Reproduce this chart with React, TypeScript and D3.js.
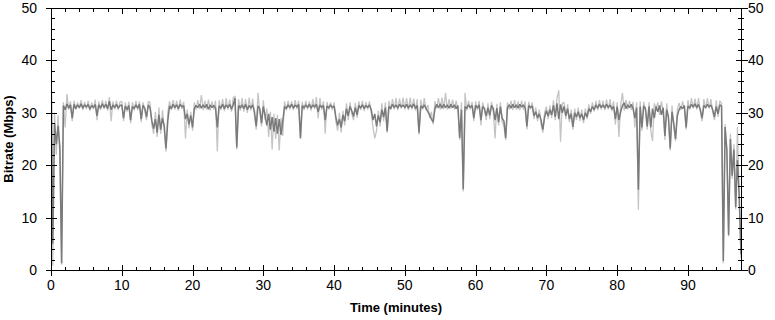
import { useEffect, useRef } from "react"
import * as d3 from "d3"

// one sample every quarter minute, split into 10-minute chunks
const STEP = 0.25
const T_END = 97.5

const xMajor = [0, 10, 20, 30, 40, 50, 60, 70, 80, 90]
const yMajor = [0, 10, 20, 30, 40, 50]

// averaged bitrate (Mbps), dark trace
const dark00 = [40, 5, 28, 24, 27.5, 23.5, 1.3, 31.4, 30.6, 31.7, 30.9, 31.5, 29.0, 31.6, 30.8, 31.5, 31.0, 31.7, 30.9, 31.5, 31.1, 31.6, 30.7, 31.4, 31.0, 31.6, 29.4, 31.5, 30.9, 31.7, 31.0, 31.6, 30.8, 32.2, 30.6, 31.5, 31.0, 31.6, 30.9, 31.4]
const dark10 = [31.5, 29.0, 31.3, 30.6, 31.4, 28.6, 31.2, 30.8, 31.5, 30.9, 31.6, 28.8, 31.4, 30.9, 29.2, 31.5, 30.9, 28.5, 27.0, 28.8, 26.2, 29.6, 26.8, 29.0, 27.5, 23.2, 28.4, 31.3, 30.8, 31.6, 31.0, 31.5, 30.8, 31.6, 31.1, 31.4, 28.8, 29.8, 27.8, 29.5]
const dark20 = [27.2, 30.8, 31.4, 31.0, 31.6, 30.9, 31.5, 31.0, 31.6, 30.7, 31.5, 31.0, 31.4, 30.9, 27.2, 31.3, 30.9, 31.6, 30.8, 31.5, 31.0, 31.6, 30.7, 31.5, 32.8, 23.4, 31.4, 30.9, 31.5, 30.8, 31.6, 30.6, 31.4, 30.9, 31.5, 30.2, 27.4, 31.3, 30.8, 28.0]
const dark30 = [31.2, 29.5, 27.6, 29.8, 26.8, 29.2, 26.4, 29.0, 26.0, 28.8, 25.8, 28.4, 31.2, 30.8, 31.5, 31.0, 31.6, 30.9, 31.5, 31.1, 31.6, 25.2, 31.4, 30.9, 31.5, 31.0, 31.6, 30.9, 31.5, 31.1, 31.6, 30.2, 31.5, 31.0, 31.4, 28.6, 31.3, 30.9, 31.5, 31.0]
const dark40 = [31.3, 29.2, 27.6, 28.8, 27.2, 29.6, 28.4, 30.8, 29.4, 31.2, 30.4, 29.3, 31.0, 29.6, 31.4, 30.9, 31.5, 30.8, 31.4, 31.0, 31.5, 30.6, 28.6, 29.8, 27.4, 29.5, 28.2, 30.6, 29.2, 31.0, 26.5, 31.2, 30.8, 31.6, 31.0, 31.5, 30.9, 31.6, 31.1, 31.5]
const dark50 = [31.0, 31.6, 30.9, 31.5, 31.0, 31.7, 30.8, 31.4, 26.2, 31.3, 30.9, 31.5, 30.8, 30.2, 29.6, 28.8, 28.2, 30.8, 31.6, 31.0, 31.7, 30.9, 31.6, 31.0, 31.5, 30.9, 31.6, 31.0, 31.5, 30.8, 31.4, 25.2, 30.6, 15.4, 31.2, 30.8, 31.5, 31.0, 31.4, 29.0]
const dark60 = [31.4, 30.9, 31.5, 28.6, 31.2, 30.8, 29.4, 31.0, 29.5, 31.4, 30.8, 28.6, 30.9, 28.2, 31.2, 29.0, 28.4, 25.2, 31.0, 31.5, 30.9, 31.6, 31.0, 31.5, 30.9, 31.6, 31.1, 31.5, 30.9, 27.4, 31.4, 31.0, 31.3, 29.4, 30.2, 29.0, 29.8, 28.6, 26.8, 29.2]
const dark70 = [30.4, 29.4, 30.6, 29.6, 31.4, 29.2, 31.8, 28.8, 31.6, 30.0, 31.2, 29.4, 30.8, 28.8, 29.8, 27.3, 30.0, 29.2, 30.2, 29.0, 29.8, 28.6, 30.0, 29.2, 30.8, 30.2, 31.2, 30.6, 31.5, 30.9, 31.6, 31.0, 31.5, 30.9, 31.6, 31.0, 31.5, 30.7, 31.2, 28.8]
const dark80 = [31.2, 28.6, 30.2, 31.4, 31.9, 30.8, 31.5, 31.0, 31.6, 30.8, 29.0, 31.0, 15.3, 31.2, 27.2, 31.3, 30.8, 27.4, 31.2, 27.2, 30.8, 29.0, 31.2, 30.2, 31.4, 29.6, 31.0, 25.6, 30.6, 29.2, 23.2, 30.2, 28.0, 25.0, 29.4, 30.6, 31.2, 30.8, 31.4, 27.2]
const dark90 = [31.3, 30.9, 31.6, 31.1, 31.7, 31.0, 31.6, 30.6, 29.0, 31.4, 31.0, 31.6, 31.1, 31.5, 30.6, 29.2, 31.2, 29.8, 31.5, 31.3, 1.7, 27.3, 23.0, 6.7, 25.0, 18.0, 23.0, 12.0, 21.0, 14.0, 3.0]

// peak bitrate (Mbps), light trace
const light00 = [45, 0.8, 30, 22, 29.5, 22, 1.0, 32.0, 27.2, 33.6, 30.6, 32.2, 28.4, 32.3, 30.6, 32.0, 30.8, 32.4, 30.5, 32.1, 30.7, 32.3, 30.4, 32.0, 30.6, 32.5, 28.6, 32.2, 30.5, 32.4, 30.7, 32.3, 30.4, 33.0, 28.4, 32.2, 30.6, 32.3, 30.5, 32.1]
const light10 = [32.2, 28.4, 32.0, 30.2, 32.1, 28.0, 32.0, 30.4, 32.3, 30.5, 32.2, 28.2, 32.0, 30.5, 28.6, 32.2, 31.9, 27.8, 26.0, 30.2, 25.4, 31.0, 26.0, 30.5, 26.8, 22.6, 30.0, 32.2, 30.5, 32.4, 30.6, 32.3, 30.4, 32.5, 30.7, 32.1, 25.1, 30.6, 27.0, 30.2]
const light20 = [26.6, 32.0, 30.6, 32.4, 30.7, 33.4, 30.5, 32.3, 30.6, 32.5, 30.4, 32.2, 30.6, 32.3, 22.6, 32.4, 30.5, 32.6, 30.3, 32.8, 30.6, 32.5, 30.2, 32.9, 33.2, 23.0, 32.6, 30.4, 32.8, 30.2, 32.6, 30.0, 32.9, 30.4, 32.7, 29.5, 26.8, 33.8, 30.3, 27.4]
const light30 = [32.4, 28.6, 30.8, 25.4, 30.2, 23.0, 29.8, 25.0, 29.6, 22.8, 29.0, 25.6, 32.2, 30.4, 32.3, 30.6, 32.2, 30.5, 32.4, 30.7, 32.3, 25.0, 32.1, 30.5, 32.3, 30.6, 32.2, 30.4, 32.6, 30.7, 33.0, 28.9, 32.8, 30.5, 32.2, 26.0, 32.1, 30.6, 32.0, 30.5]
const light40 = [32.0, 28.4, 26.6, 30.0, 26.2, 30.4, 27.6, 31.8, 28.6, 32.0, 29.8, 28.6, 31.9, 29.0, 32.2, 30.5, 32.3, 30.3, 32.1, 30.6, 32.2, 30.0, 27.2, 25.1, 26.6, 30.4, 27.4, 31.8, 28.4, 32.0, 26.2, 32.3, 30.5, 32.6, 30.6, 32.8, 30.5, 32.7, 30.8, 32.9]
const light50 = [30.6, 32.8, 30.5, 32.9, 30.6, 32.7, 30.4, 32.6, 25.8, 32.5, 30.6, 32.8, 30.5, 31.5, 29.0, 30.2, 27.8, 32.2, 30.8, 32.8, 30.6, 32.9, 30.7, 33.8, 30.6, 32.6, 30.8, 32.5, 30.6, 32.3, 30.5, 24.8, 32.0, 15.0, 33.8, 30.4, 32.3, 30.6, 32.1, 28.4]
const light60 = [32.2, 30.5, 32.3, 27.6, 32.0, 30.4, 28.6, 31.8, 28.8, 32.1, 30.2, 25.1, 31.7, 27.6, 32.0, 28.2, 27.6, 24.8, 32.0, 30.6, 32.3, 30.5, 32.4, 30.6, 32.2, 30.5, 32.3, 30.6, 32.2, 26.8, 32.1, 30.6, 32.0, 28.8, 31.0, 28.4, 30.6, 27.8, 26.2, 30.0]
const light70 = [31.2, 28.8, 31.4, 29.0, 32.4, 28.6, 32.8, 34.3, 24.5, 31.8, 32.0, 28.8, 31.6, 28.2, 30.6, 26.8, 30.8, 28.6, 31.0, 28.4, 30.6, 28.0, 30.8, 28.8, 31.6, 29.8, 32.0, 30.2, 32.3, 30.5, 32.4, 30.6, 32.3, 30.5, 32.5, 30.6, 32.6, 30.3, 32.2, 27.8]
const light80 = [32.0, 25.4, 31.6, 33.8, 30.4, 32.4, 30.6, 32.3, 30.5, 32.1, 27.2, 32.0, 11.5, 32.2, 26.6, 32.1, 30.4, 26.8, 32.0, 26.6, 24.6, 31.8, 30.8, 32.0, 29.6, 32.2, 30.4, 24.8, 31.8, 28.6, 22.8, 31.4, 27.4, 24.6, 30.6, 31.9, 30.5, 32.2, 30.7, 26.8]
const light90 = [32.4, 30.6, 32.8, 30.8, 32.7, 30.6, 32.8, 30.2, 28.4, 32.6, 30.7, 32.8, 30.8, 32.6, 30.2, 28.6, 32.4, 29.2, 32.3, 31.8, 1.3, 27.8, 22.4, 6.4, 26.0, 17.4, 24.0, 11.6, 27.3, 13.4, 2.3]

const darkSeries = [dark00, dark10, dark20, dark30, dark40, dark50, dark60, dark70, dark80, dark90].flat()
const lightSeries = [light00, light10, light20, light30, light40, light50, light60, light70, light80, light90].flat()

export default function App() {
  const svgRef = useRef<SVGSVGElement>(null)

  useEffect(() => {
    if (!svgRef.current) return
    const svg = d3.select(svgRef.current)
    svg.selectAll("*").remove()

    const left = 51
    const right = 741
    const top = 8
    const bottom = 270
    const font = "'Liberation Sans', Arial, sans-serif"

    const x = d3.scaleLinear().domain([0, T_END]).range([left, right])
    const y = d3.scaleLinear().domain([0, 50]).range([bottom, top])

    svg.append("rect").attr("width", 775).attr("height", 320).attr("fill", "#fff")

    svg
      .append("defs")
      .append("clipPath")
      .attr("id", "plot-clip")
      .append("rect")
      .attr("x", left)
      .attr("y", top)
      .attr("width", right - left)
      .attr("height", bottom - top)

    const line = d3
      .line<number>()
      .x((_, i) => x(i * STEP))
      .y((d) => y(d))

    const plot = svg.append("g").attr("clip-path", "url(#plot-clip)")
    plot
      .append("path")
      .datum(lightSeries)
      .attr("d", line)
      .attr("fill", "none")
      .attr("stroke", "#c4c4c4")
      .attr("stroke-width", 1.3)
      .attr("stroke-linejoin", "bevel")
    plot
      .append("path")
      .datum(darkSeries)
      .attr("d", line)
      .attr("fill", "none")
      .attr("stroke", "#7a7a7a")
      .attr("stroke-width", 1.5)
      .attr("stroke-linejoin", "bevel")

    // frame + ticks
    const axes = svg.append("g").attr("stroke", "#000").attr("shape-rendering", "crispEdges")
    const px = (v: number) => Math.round(v) + 0.5
    axes.append("line").attr("x1", left).attr("x2", right + 1).attr("y1", px(top)).attr("y2", px(top))
    axes.append("line").attr("x1", left).attr("x2", right + 1).attr("y1", px(bottom)).attr("y2", px(bottom))
    axes.append("line").attr("x1", px(left)).attr("x2", px(left)).attr("y1", top).attr("y2", bottom + 1)
    axes.append("line").attr("x1", px(right)).attr("x2", px(right)).attr("y1", top).attr("y2", bottom + 1)

    const xMinor = d3.range(2, 97, 2).filter((v) => v % 10 !== 0)
    const yMinor = d3.range(2, 50, 2).filter((v) => v % 10 !== 0)

    xMajor.forEach((v) => {
      const xp = px(x(v))
      axes.append("line").attr("x1", xp).attr("x2", xp).attr("y1", bottom - 5).attr("y2", bottom + 6)
      axes.append("line").attr("x1", xp).attr("x2", xp).attr("y1", top).attr("y2", top + 6)
    })
    xMinor.forEach((v) => {
      const xp = px(x(v))
      axes.append("line").attr("x1", xp).attr("x2", xp).attr("y1", bottom - 3).attr("y2", bottom)
      axes.append("line").attr("x1", xp).attr("x2", xp).attr("y1", top).attr("y2", top + 4)
    })
    yMajor.forEach((v) => {
      const yp = px(y(v))
      axes.append("line").attr("x1", left - 5).attr("x2", left + 6).attr("y1", yp).attr("y2", yp)
      axes.append("line").attr("x1", right - 5).attr("x2", right + 7).attr("y1", yp).attr("y2", yp)
    })
    yMinor.forEach((v) => {
      const yp = px(y(v))
      axes.append("line").attr("x1", left).attr("x2", left + 4).attr("y1", yp).attr("y2", yp)
      axes.append("line").attr("x1", right - 3).attr("x2", right + 3).attr("y1", yp).attr("y2", yp)
    })

    const labels = svg.append("g").attr("font-family", font).attr("font-size", "14px").attr("fill", "#000")
    xMajor.forEach((v) => {
      labels.append("text").attr("x", x(v)).attr("y", 290).attr("text-anchor", "middle").text(v)
    })
    yMajor.forEach((v) => {
      labels
        .append("text")
        .attr("x", 37)
        .attr("y", y(v) + 5)
        .attr("text-anchor", "end")
        .text(v)
      labels
        .append("text")
        .attr("x", 748)
        .attr("y", y(v) + 5)
        .attr("text-anchor", "start")
        .text(v)
    })

    svg
      .append("text")
      .attr("x", (left + right) / 2)
      .attr("y", 312)
      .attr("text-anchor", "middle")
      .attr("font-family", font)
      .attr("font-size", "13px")
      .attr("font-weight", "bold")
      .text("Time (minutes)")

    svg
      .append("text")
      .attr("transform", `translate(13,${(top + bottom) / 2}) rotate(-90)`)
      .attr("text-anchor", "middle")
      .attr("font-family", font)
      .attr("font-size", "13px")
      .attr("font-weight", "bold")
      .text("Bitrate (Mbps)")
  }, [])

  return (
    <svg
      ref={svgRef}
      width={775}
      height={320}
      style={{ position: "absolute", left: 0, top: 0, display: "block" }}
    />
  )
}
